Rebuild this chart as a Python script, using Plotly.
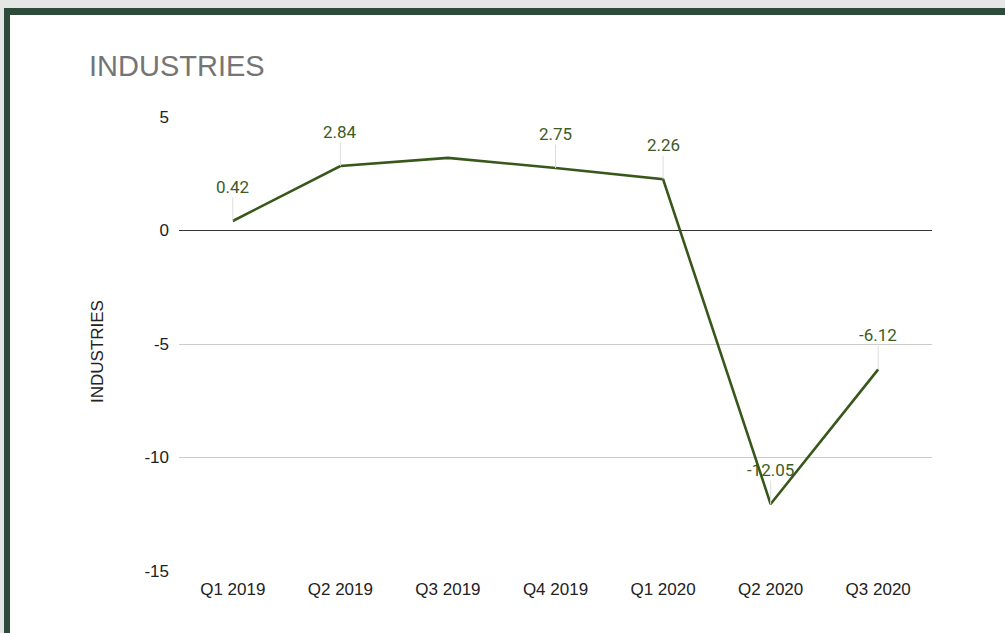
import plotly.graph_objects as go

quarters = ["Q1 2019", "Q2 2019", "Q3 2019", "Q4 2019", "Q1 2020", "Q2 2020", "Q3 2020"]
values = [0.42, 2.84, 3.2, 2.75, 2.26, -12.05, -6.12]
labels = ["0.42", "2.84", "", "2.75", "2.26", "-12.05", "-6.12"]
y_ticks = [5, 0, -5, -10, -15]

W, H = 1005, 633
L, R, T, B = 179, 932, 117, 571
pw, ph = R - L, B - T

def px(x):
    return (x - L) / pw

def py(y):
    return (B - y) / ph

line_color = "#38571a"
frame_color = "#2e4a3b"

fig = go.Figure()
fig.add_trace(go.Scatter(
    x=quarters, y=values, mode="lines",
    line=dict(color=line_color, width=2.6),
    hoverinfo="skip", showlegend=False,
))

annotations = []
for q, v, lab in zip(quarters, values, labels):
    if not lab:
        continue
    annotations.append(dict(
        x=q, y=v, xref="x", yref="y", text=lab,
        showarrow=True, arrowhead=0, arrowwidth=1, arrowcolor="#dddddd",
        ax=0, ay=-34, standoff=0,
        font=dict(family="Roboto, Arial, sans-serif", size=17, color="#3d5c24"),
        borderpad=0,
    ))

annotations.append(dict(
    text="INDUSTRIES", xref="paper", yref="paper",
    x=px(87), y=py(66), xanchor="left", yanchor="middle", showarrow=False,
    font=dict(family="Liberation Sans, Arial, sans-serif", size=29, color="#757575"),
))
annotations.append(dict(
    text="INDUSTRIES", xref="paper", yref="paper",
    x=px(97), y=py(352), xanchor="center", yanchor="middle", showarrow=False,
    textangle=-90,
    font=dict(family="Liberation Sans, Arial, sans-serif", size=17, color="#222222"),
))

shapes = [
    dict(type="rect", xref="paper", yref="paper", x0=px(0), x1=px(W), y0=py(0), y1=py(9),
         fillcolor="#e6e6e6", line_width=0, layer="below"),
    dict(type="rect", xref="paper", yref="paper", x0=px(0), x1=px(4), y0=py(0), y1=py(H),
         fillcolor="#e6e6e6", line_width=0, layer="below"),
    dict(type="rect", xref="paper", yref="paper", x0=px(4), x1=px(W), y0=py(8), y1=py(15),
         fillcolor=frame_color, line_width=0, layer="below"),
    dict(type="rect", xref="paper", yref="paper", x0=px(4), x1=px(10), y0=py(8), y1=py(H),
         fillcolor=frame_color, line_width=0, layer="below"),
]

fig.update_layout(
    width=W, height=H,
    margin=dict(l=L, r=W - R, t=T, b=H - B, pad=0),
    paper_bgcolor="white", plot_bgcolor="white",
    annotations=annotations, shapes=shapes,
    font=dict(family="Liberation Sans, Arial, sans-serif", size=17, color="#222222"),
    xaxis=dict(
        type="category", range=[-0.5, 6.5], showgrid=False, zeroline=False,
        showline=False, ticks="", tickfont=dict(size=17, color="#222222"),
        ticklabelstandoff=6, fixedrange=True,
    ),
    yaxis=dict(
        range=[-15, 5], tickvals=y_ticks, ticktext=[str(t) for t in y_ticks],
        showgrid=True, gridcolor="#cccccc", gridwidth=1,
        zeroline=True, zerolinecolor="#333333", zerolinewidth=1,
        showline=False, ticks="", ticklen=0, tickfont=dict(size=17, color="#222222"),
        ticklabelstandoff=9, automargin=False, fixedrange=True,
    ),
)

fig.write_html(
    "out.html",
    config={"displayModeBar": False},
    post_script="document.body.style.margin='0';document.body.style.padding='0';",
)
